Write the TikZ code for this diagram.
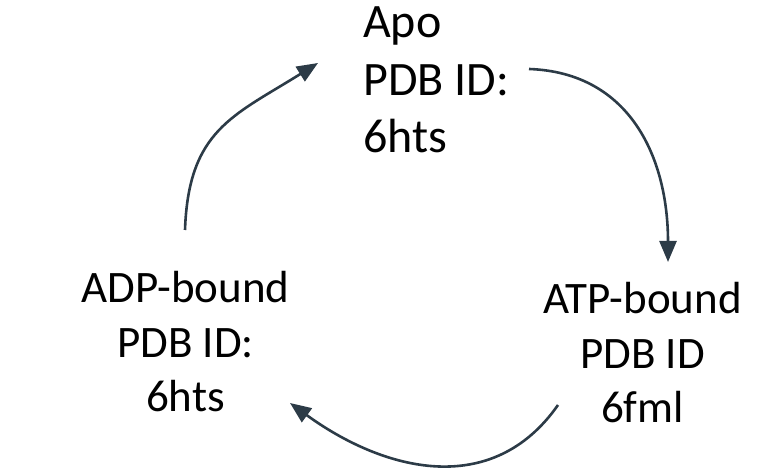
\documentclass[tikz,border=0pt]{standalone}
\usepackage{fontspec}
\setmainfont{Carlito}
\usetikzlibrary{arrows.meta}
\definecolor{cycleslate}{HTML}{2C3B47}
\tikzset{
  state/.style={ % image of one conformation label
    inner sep=0pt, text=black, align=center,
    font=\fontsize{45}{54.5}\selectfont
  },
  cyclearrow/.style={ % image of a curved transition arrow
    draw=cycleslate, line width=2.6pt,
    -{Triangle[length=21pt,width=17pt]}
  }
}

\begin{document}
\begin{tikzpicture}[x=1pt,y=1pt]
  \useasboundingbox (0,0) rectangle (768,470);

  \node[state,align=left,anchor=base west,
        font=\fontsize{48}{57.5}\selectfont] (apo) at (363,317) {Apo\\PDB ID:\\6hts};
  \node[state,anchor=base] (adp) at (185.5,58) {ADP-bound\\PDB ID:\\6hts};
  \node[state,anchor=base] (atp) at (642.5,47) {ATP-bound\\PDB ID\\6fml};

  \coordinate (adp_out) at (185,240);
  \coordinate (apo_in) at (318,407);
  \coordinate (apo_out) at (529,401);
  \coordinate (atp_in) at (668,208);
  \coordinate (atp_out) at (558,65);
  \coordinate (adp_in) at (290,67);

  \draw[cyclearrow] (adp_out) to[out=88,in=212,looseness=1.2] (apo_in);
  \draw[cyclearrow] (apo_out) to[out=-2,in=90,looseness=1.1] (atp_in);
  \draw[cyclearrow] (atp_out) to[out=235,in=-36,looseness=1.1] (adp_in);
\end{tikzpicture}
\end{document}
